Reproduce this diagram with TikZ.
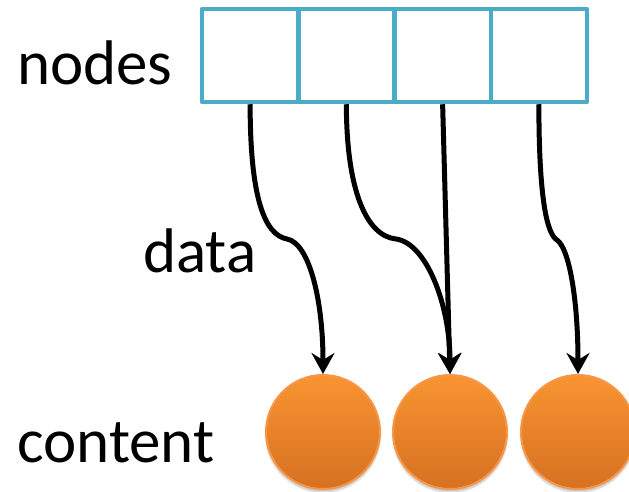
\documentclass[tikz,border=0pt]{standalone}
\usepackage{fontspec}
\setmainfont{Carlito}
\usetikzlibrary{arrows.meta,shadows.blur}

\definecolor{cellblue}{RGB}{75,172,198}
\definecolor{ballrim}{RGB}{247,150,70}
\definecolor{balltop}{RGB}{249,148,50}
\definecolor{ballbottom}{RGB}{213,113,33}

\begin{document}
\begin{tikzpicture}[x=1pt, y=-1pt, line join=round]
    \pgfmathsetmacro{\w}{96.25}
    \pgfmathsetmacro{\r}{57}

    \tikzset{%
      cell_box/.style     = {draw=cellblue, line width=4.5pt, minimum width=\w pt,
                             minimum height=93pt, inner sep=0pt},
      content_ball/.style = {circle, draw=ballrim, line width=2pt, minimum size=2*\r pt,
                             inner sep=0pt, top color=balltop, bottom color=ballbottom,
                             blur shadow={shadow blur steps=6, shadow opacity=25,
                                          shadow xshift=0pt, shadow yshift=-3pt}},
      data_arrow/.style   = {line width=5pt, -{Stealth[length=21pt, width=23pt, inset=7pt]}},
      label_text/.style   = {anchor=base west, inner sep=0pt,
                             font=\fontsize{63}{70}\selectfont}
    }

    \useasboundingbox (0,0) rectangle (629,492);

    % the node array
    \foreach \i in {1,...,4}
      \node[cell_box] (cell\i) at ({202+(\i-0.5)*\w},55.5) {};

    % the content balls
    \foreach \i/\x in {1/323, 2/450, 3/578}
      \node[content_ball] (ball\i) at (\x,432) {};

    % labels on the left
    \node[label_text] (nodes_lbl)   at (17,85)  {nodes};
    \node[label_text] (data_lbl)    at (143,272) {data};
    \node[label_text] (content_lbl) at (17,462) {content};

    % kinks of the data pointers
    \coordinate (kink1) at (287,239);
    \coordinate (kink2) at (396,239);
    \coordinate (kink4) at (557,240);

    % data pointers (y grows downwards here)
    \draw[data_arrow] (cell1.south) .. controls +(0,95) and +(-22,-4) .. (kink1)
                                    .. controls +(22,4) and +(0,-75) .. (ball1.north);
    \draw[data_arrow] (cell2.south) .. controls +(0,85) and +(-30,-3) .. (kink2)
                                    .. controls +(30,4) and +(0,-70) .. (ball2.north);
    \draw[data_arrow] (cell3.south) -- (ball2.north);
    \draw[data_arrow] (cell4.south) .. controls +(0,95) and +(-10,-6) .. (kink4)
                                    .. controls +(12,8) and +(0,-75) .. (ball3.north);
\end{tikzpicture}
\end{document}
